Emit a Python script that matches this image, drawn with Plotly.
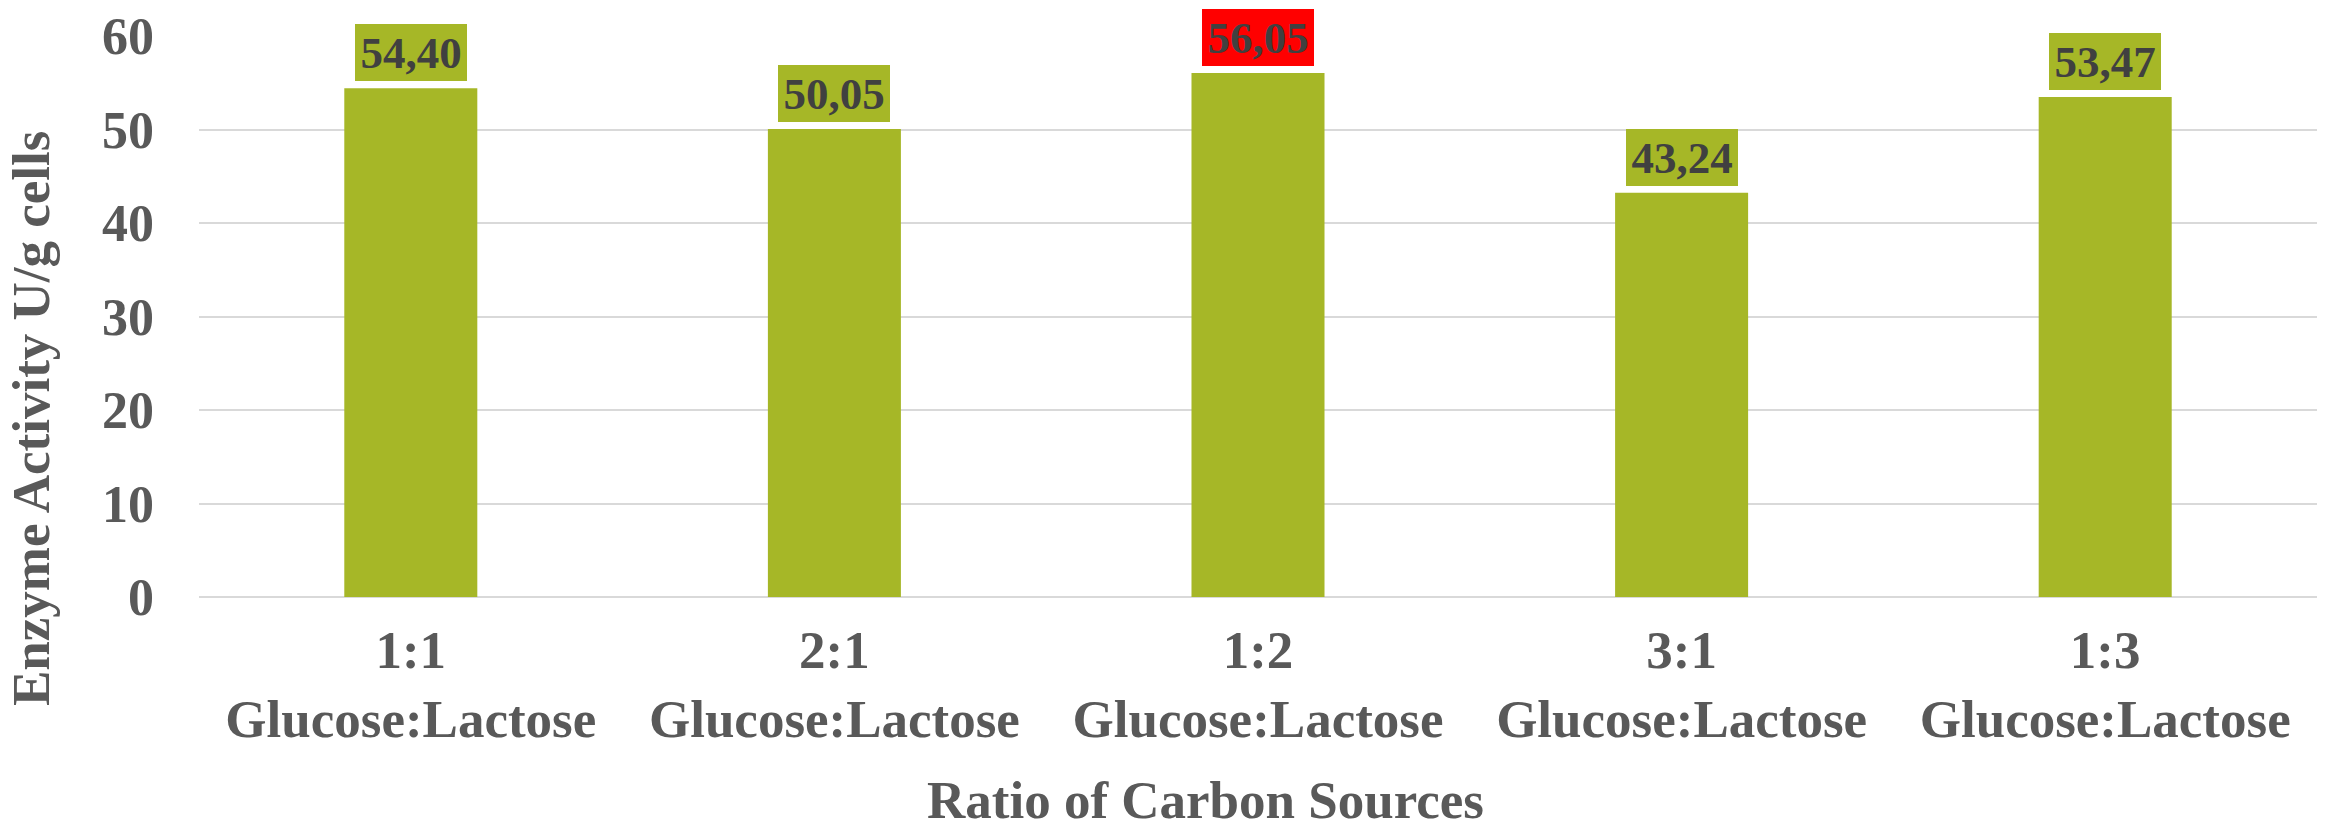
import plotly.graph_objects as go

# Enzyme activity for each glucose:lactose ratio
ratios = ["1:1", "2:1", "1:2", "3:1", "1:3"]
sugar_pair = "Glucose:Lactose"
activity = [54.40, 50.05, 56.05, 43.24, 53.47]
y_ticks = [0, 10, 20, 30, 40, 50, 60]

categories = [f"{r}<br>{sugar_pair}" for r in ratios]

BAR_GREEN = "#A6B727"
HIGHLIGHT = "#FF0000"
TICK_GREY = "#595959"
LABEL_GREY = "#404040"
GRID_GREY = "#D9D9D9"
SERIF = "Liberation Serif, Times New Roman, serif"

fig = go.Figure(
    go.Bar(
        x=categories,
        y=activity,
        marker=dict(color=BAR_GREEN, line=dict(width=0)),
        hoverinfo="skip",
    )
)

# Value labels in filled boxes above each bar; the best ratio is highlighted
best = max(activity)
for cat, val in zip(categories, activity):
    fig.add_annotation(
        x=cat, y=val, xref="x", yref="y",
        text=f"{val:.2f}".replace(".", ","),
        showarrow=False,
        yanchor="bottom", xanchor="center",
        yshift=7,
        width=112, height=57,
        bgcolor=HIGHLIGHT if val == best else BAR_GREEN,
        borderpad=0, borderwidth=0,
        font=dict(family=SERIF, size=45, color=LABEL_GREY, weight="bold"),
    )

# Axis titles
fig.add_annotation(
    text="Enzyme Activity U/g cells",
    xref="paper", yref="paper", x=-0.0793, y=0.319,
    xanchor="center", yanchor="middle", textangle=-90,
    showarrow=False,
    font=dict(family=SERIF, size=53, color=TICK_GREY, weight="bold"),
)
fig.add_annotation(
    text="Ratio of Carbon Sources",
    xref="paper", yref="paper", x=0.475, y=-0.361,
    xanchor="center", yanchor="middle",
    showarrow=False,
    font=dict(family=SERIF, size=53, color=TICK_GREY, weight="bold"),
)

fig.update_layout(
    width=2326, height=828,
    margin=dict(l=199, r=9, t=36, b=231, autoexpand=False),
    paper_bgcolor="white", plot_bgcolor="white",
    bargap=0.686,
    showlegend=False,
)
fig.update_xaxes(
    showgrid=False, showline=False, zeroline=False,
    ticks="", ticklabelstandoff=17,
    tickfont=dict(family=SERIF, size=53, color=TICK_GREY, weight="bold"),
)
fig.update_yaxes(
    range=[0, 60], tickvals=y_ticks,
    showgrid=True, gridcolor=GRID_GREY, gridwidth=2,
    zeroline=True, zerolinecolor=GRID_GREY, zerolinewidth=2,
    showline=False, ticks="", ticklabelstandoff=44,
    tickfont=dict(family=SERIF, size=52, color=TICK_GREY, weight="bold"),
)

fig.write_html("out.html")
